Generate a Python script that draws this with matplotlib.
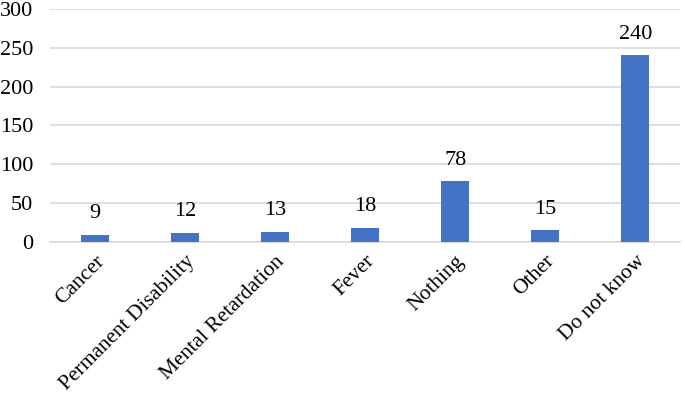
import matplotlib
matplotlib.use("Agg")
import matplotlib.pyplot as plt

categories = ["Cancer", "Permanent Disability", "Mental Retardation", "Fever", "Nothing", "Other", "Do not know"]
values = [9, 12, 13, 18, 78, 15, 240]
yticks = [0, 50, 100, 150, 200, 250, 300]

plt.rcParams['font.family'] = ['Liberation Serif', 'DejaVu Serif']

fig = plt.figure(figsize=(6.85, 3.97), dpi=100)
ax = fig.add_axes([0.073, 0.390, 0.92, 0.588])

x = list(range(len(categories)))
bars = ax.bar(x, values, width=0.31, color='#4472C4', zorder=3)
for xi, v in zip(x, values):
    ax.text(xi, v + 15, str(v), ha='center', va='bottom', fontsize=16)

ax.set_xlim(-0.5, len(categories) - 0.5)
ax.set_ylim(0, 300)
ax.set_yticks(yticks)
ax.set_yticklabels([str(t) for t in yticks], fontsize=16)
ax.set_xticks(x)
ax.set_xticklabels(categories, rotation=45, ha='right', rotation_mode='anchor', fontsize=15.5)
ax.tick_params(axis='both', length=0)
ax.tick_params(axis='y', pad=12)
ax.tick_params(axis='x', pad=7)
for s in ['top', 'right', 'left']:
    ax.spines[s].set_visible(False)
ax.spines['bottom'].set_color('#D9D9D9')
ax.spines['bottom'].set_linewidth(1.2)
ax.yaxis.grid(True, color='#D9D9D9', linewidth=1.2, zorder=0)

fig.savefig("out.png", dpi=100)
